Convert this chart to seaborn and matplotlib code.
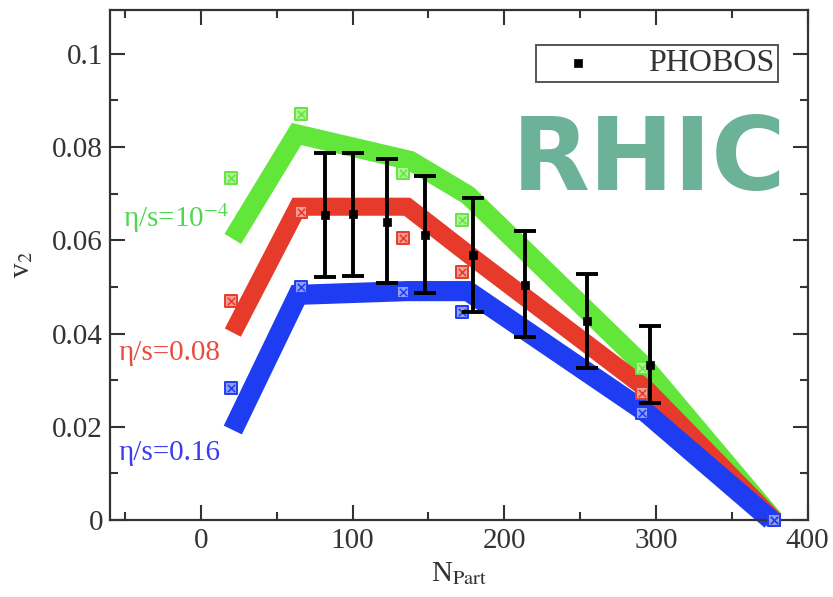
import numpy as np
import pandas as pd
import matplotlib
matplotlib.use("Agg")
import matplotlib.pyplot as plt
import seaborn as sns
from matplotlib.ticker import MultipleLocator, FuncFormatter

# ---------------- data ----------------
# hydro bands (centre lines of thick bands)
green_x = [21, 63, 138, 176, 293, 378]
green_v = [0.0603, 0.0828, 0.0771, 0.0697, 0.0328, 0.0]
red_x = [21, 64, 136, 176, 293, 378]
red_v = [0.0402, 0.0672, 0.0672, 0.0571, 0.0283, 0.0]
blue_x = [21, 64, 136, 176, 293, 376]
blue_v = [0.0193, 0.0483, 0.0491, 0.0491, 0.0232, 0.0]

# theory points (crossed squares)
theory_x = [20, 66, 133, 172, 291, 378]
green_pts = [0.0734, 0.0871, 0.0745, 0.0644, 0.0326, 0.0]
red_pts = [0.0470, 0.0661, 0.0605, 0.0532, 0.0273, 0.0]
blue_pts = [0.0283, 0.0500, 0.0489, 0.0446, 0.0230, 0.0]

# PHOBOS data
phobos_x = [82, 100, 122.5, 148, 179.5, 214, 254.5, 296]
phobos_v2 = [0.0655, 0.0657, 0.0639, 0.0612, 0.0569, 0.0504, 0.0426, 0.0333]
phobos_lo = [0.0521, 0.0524, 0.0509, 0.0486, 0.0447, 0.0393, 0.0326, 0.0252]
phobos_hi = [0.0788, 0.0788, 0.0775, 0.0737, 0.0690, 0.0621, 0.0528, 0.0416]

x_ticks = [0, 100, 200, 300, 400]
y_ticks = [0, 0.02, 0.04, 0.06, 0.08, 0.1]

band_labels = ["\u03b7/s=10$^{-4}$", "\u03b7/s=0.08", "\u03b7/s=0.16"]

# ---------------- style ----------------
sns.set_style("ticks")
plt.rcParams["font.family"] = ["Liberation Serif", "DejaVu Serif"]
plt.rcParams["mathtext.fontset"] = "stix"

GREEN = "#62e63a"
RED = "#e63b2a"
BLUE = "#1e3cf2"

fig = plt.figure(figsize=(8.33, 5.97), dpi=100)
W, H = 833, 597
ax = fig.add_axes([110 / W, 1 - 520 / H, 697.5 / W, 510 / H])

bands = [(green_x, green_v, GREEN, 14.0),
         (red_x, red_v, RED, 13.0),
         (blue_x, blue_v, BLUE, 14.5)]
for bx, bv, col, lw in bands:
    sns.lineplot(x=bx, y=bv, sort=False, estimator=None, color=col,
                 linewidth=lw, solid_capstyle="butt", solid_joinstyle="miter",
                 ax=ax, clip_on=False, zorder=2)

def light(c, f=0.5):
    r, g, b = matplotlib.colors.to_rgb(c)
    return (r + (1 - r) * f, g + (1 - g) * f, b + (1 - b) * f)

for pts, col in [(green_pts, GREEN), (red_pts, RED), (blue_pts, BLUE)]:
    sns.scatterplot(x=theory_x, y=pts, marker="s", s=80, color=light(col),
                    edgecolor=col, linewidth=1.4, ax=ax, clip_on=False,
                    zorder=3)
    sns.scatterplot(x=theory_x, y=pts, marker="x", s=28, color=col,
                    linewidth=1.1, ax=ax, clip_on=False, zorder=3.1)

px = np.array(phobos_x)
pv = np.array(phobos_v2)
yerr = [pv - np.array(phobos_lo), np.array(phobos_hi) - pv]
ax.errorbar(px, pv, yerr=yerr, fmt="none", ecolor="black", elinewidth=2.8,
            capsize=8, capthick=2.8, zorder=4)
sns.scatterplot(x=phobos_x, y=phobos_v2, marker="s", s=36, color="black",
                edgecolor="black", linewidth=0.5, label="PHOBOS", ax=ax,
                zorder=5)

# ---------------- axes ----------------
ax.set_xlim(-60, 400)
ax.set_ylim(0, 0.1094)
ax.set_xticks(x_ticks)
ax.set_yticks(y_ticks)
ax.xaxis.set_minor_locator(MultipleLocator(50))
ax.yaxis.set_minor_locator(MultipleLocator(0.01))
ax.yaxis.set_major_formatter(FuncFormatter(lambda v, p: "%g" % round(v, 3)))
ax.tick_params(which="both", direction="in", top=True, right=True,
               width=1.5, colors="#333333", labelcolor="#333333")
ax.tick_params(which="major", length=11, labelsize=21)
ax.tick_params(which="minor", length=5.5)
ax.tick_params(axis="x", which="major", pad=6)
ax.tick_params(axis="y", which="major", pad=5)
for sp in ax.spines.values():
    sp.set_linewidth(1.6)
    sp.set_color("#333333")
    sp.set_visible(True)

ax.set_xlabel(r"N$_{\mathrm{Part}}$", fontsize=21, color="#333333", labelpad=4)
ax.set_ylabel(r"v$_{2}$", fontsize=21, color="#333333", labelpad=12)

# band labels
ax.text(-51.5, 0.0629, band_labels[0], color="#4fd84f", fontsize=21,
        ha="left", va="baseline")
ax.text(-54.7, 0.0343, band_labels[1], color="#e84c3d", fontsize=21,
        ha="left", va="baseline")
ax.text(-54.7, 0.0129, band_labels[2], color="#3b3bf0", fontsize=21,
        ha="left", va="baseline")

leg = ax.legend(loc="upper right", bbox_to_anchor=(0.958, 0.931),
                frameon=True, fancybox=False, edgecolor="#555555",
                framealpha=1, borderpad=0.12, handlelength=2.4,
                handletextpad=1.0, fontsize=23, borderaxespad=0)
leg.get_frame().set_linewidth(1.4)
for t in leg.get_texts():
    t.set_color("#333333")

fig.text(649 / W, 1 - 190 / H, "RHIC", fontsize=73, fontweight="bold",
         family="DejaVu Sans", color="#6bb298", ha="center", va="baseline")

fig.savefig("out.png", dpi=100)
